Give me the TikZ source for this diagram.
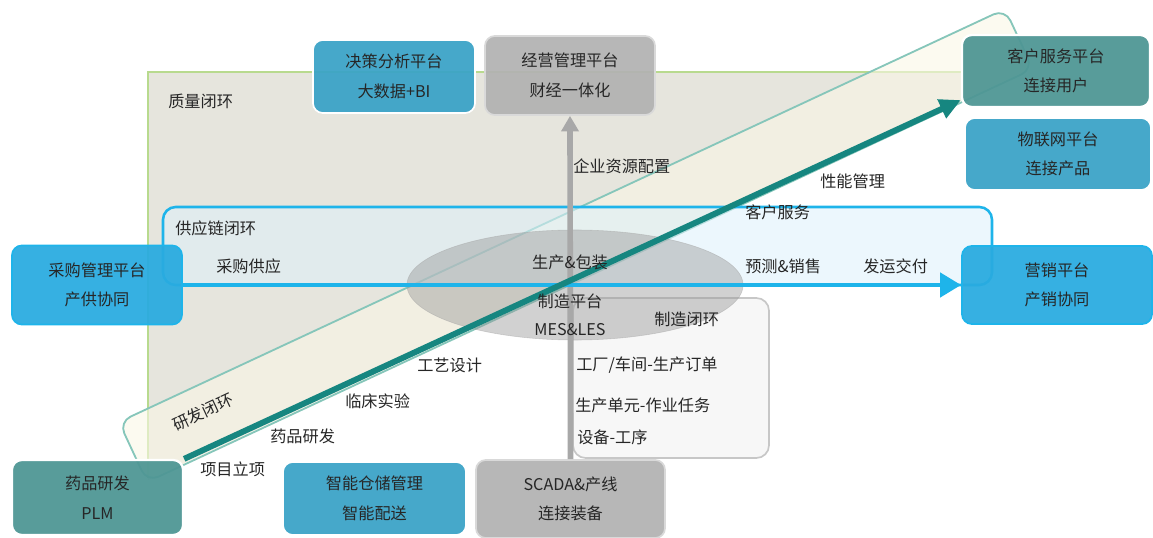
\documentclass[tikz,border=0pt]{standalone}
\usepackage{fontspec}
\setmainfont{Noto Sans CJK SC}
\usetikzlibrary{shapes.geometric,arrows.meta}
\definecolor{txtdark}{HTML}{262626}
\definecolor{qualfill}{HTML}{E6E5DD}
\definecolor{qualline}{HTML}{B8DA8E}
\definecolor{bandfill}{HTML}{FAF7E6}
\definecolor{bandline}{HTML}{86C6BA}
\definecolor{supfill}{HTML}{DDF1FB}
\definecolor{supline}{HTML}{1EB4EA}
\definecolor{platblue}{HTML}{3AA3C7}
\definecolor{platteal}{HTML}{4E9694}
\definecolor{platbright}{HTML}{29ABE0}
\definecolor{platgrey}{HTML}{B2B2B2}
\definecolor{arrteal}{HTML}{168680}
\definecolor{arrgrey}{HTML}{A8A8A8}

\begin{document}
\begin{tikzpicture}[
  x=0.025cm, y=-0.025cm,
  font=\fontsize{11.5}{21}\selectfont,
  platbox/.style={rounded corners=7pt, align=center, text=txtdark, fill opacity=0.94, text opacity=1, inner sep=0pt, line width=1.2pt},
  blueplat/.style={platbox, fill=platblue, draw=white},
  tealplat/.style={platbox, fill=platteal, draw=white, line width=1.6pt},
  brightplat/.style={platbox, fill=platbright, draw=supline},
  greyplat/.style={platbox, fill=platgrey, draw=white!85!black},
  looptag/.style={anchor=west, text=txtdark, inner sep=0pt},
  midtag/.style={text=txtdark, inner sep=0pt}
]
  \useasboundingbox (0,0) rectangle (1153,538);

  \fill[qualfill] (148,72) -- (962,72) -- (962,100) -- (148,480) -- cycle;
  \draw[qualline, line width=1.4pt] (148,478) -- (148,72) -- (962,72);

  \draw[bandline, line width=1.3pt, fill=bandfill, fill opacity=0.6, rounded corners=9pt]
    (119,422) -- (1005,9) -- (1033,69) -- (147,482) -- cycle;

  \draw[supline, line width=1.8pt, fill=supfill, fill opacity=0.55, rounded corners=9pt]
    (163,207) rectangle (992,285);

  \draw[white!78!black, line width=1.2pt, fill=white!97!black, rounded corners=9pt]
    (573,298) rectangle (769,458);

  \node[ellipse, draw=white!65!black, fill=black!40, fill opacity=0.45, draw opacity=0.5,
    minimum width=8.4cm, minimum height=2.75cm] (mes) at (575,285) {};

  \node[blueplat, minimum width=4.05cm, minimum height=1.825cm] (bi) at (394,76.5) {决策分析平台\\大数据+BI};
  \node[greyplat, minimum width=4.25cm, minimum height=1.975cm] (biz) at (570,75.5) {经营管理平台\\财经一体化};
  \node[tealplat, minimum width=4.7cm, minimum height=1.8cm] (custsvc) at (1056,71) {客户服务平台\\连接用户};
  \node[blueplat, minimum width=4.65cm, minimum height=1.8cm] (iot) at (1058,154) {物联网平台\\连接产品};
  \node[brightplat, minimum width=4.25cm, minimum height=1.975cm] (purchase) at (97,285) {采购管理平台\\产供协同};
  \node[brightplat, minimum width=4.75cm, minimum height=1.95cm] (marketing) at (1057,285) {营销平台\\产销协同};
  \node[tealplat, minimum width=4.275cm, minimum height=1.875cm] (plm) at (97.5,497.5) {药品研发\\PLM};
  \node[blueplat, minimum width=4.575cm, minimum height=1.825cm] (wms) at (374.5,498.5) {智能仓储管理\\智能配送};
  \node[greyplat, minimum width=4.725cm, minimum height=1.95cm] (scada) at (570.5,499) {SCADA\&产线\\连接装备};

  \draw[arrgrey, line width=4pt, -{Triangle[length=11pt, width=12pt]}] (scada.north) -- (biz.south);
  \draw[supline, line width=3.5pt, -{Triangle[length=15pt, width=17pt]}] (purchase.east) -- (marketing.west);
  \draw[arrteal, line width=4.2pt, -{Triangle[length=15pt, width=14pt]}] (plm.north east) -- (custsvc.197);

  \node[looptag] (qualtag) at (168,101) {质量闭环};
  \node[looptag] (suptag) at (175,228) {供应链闭环};
  \node[looptag] (buytag) at (216,266) {采购供应};
  \node[looptag] (erptag) at (573,166) {企业资源配置};
  \node[looptag] (perftag) at (820,181) {性能管理};
  \node[looptag] (servtag) at (745,212) {客户服务};
  \node[looptag] (saletag) at (745,266) {预测\&销售};
  \node[looptag] (shiptag) at (863,266) {发运交付};
  \node[midtag] (packtag) at (570,262) {生产\&包装};
  \node[midtag] (mestag) at (570,301) {制造平台};
  \node[midtag] (mestag2) at (570,330) {MES\&LES};
  \node[looptag] (mfgtag) at (654,319) {制造闭环};
  \node[looptag] (ordertag) at (576,365) {工厂/车间-生产订单};
  \node[looptag] (tasktag) at (575,405) {生产单元-作业任务};
  \node[looptag] (steptag) at (577,437) {设备-工序};
  \node[looptag] (proctag) at (417,365) {工艺设计};
  \node[looptag] (clintag) at (345,401) {临床实验};
  \node[looptag] (drugtag) at (270,436) {药品研发};
  \node[looptag] (projtag) at (200,469) {项目立项};
  \node[midtag, rotate=25] (rdtag) at (203,412) {研发闭环};
\end{tikzpicture}
\end{document}
